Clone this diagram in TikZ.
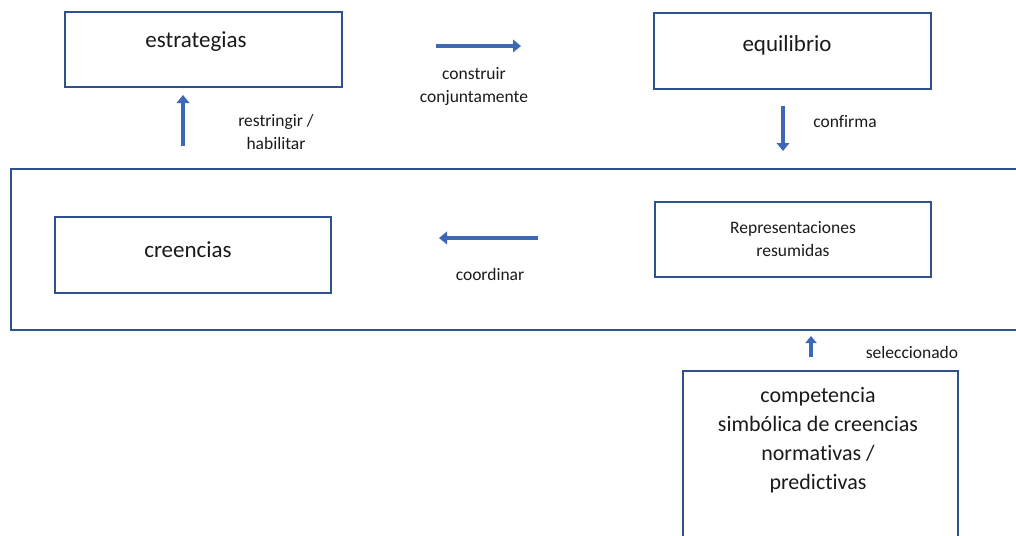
\documentclass[tikz,border=0pt]{standalone}
\usepackage{fontspec}
\setmainfont[Ligatures=NoCommon,RawFeature={-liga;-dlig;-clig}]{Carlito}
\usetikzlibrary{arrows.meta}
\definecolor{boxline}{HTML}{2F528F}
\definecolor{arrowfill}{HTML}{3D68B5}
\definecolor{txt}{HTML}{1A1A1A}
\tikzset{
  box/.style={draw=boxline, line width=2pt, rectangle, inner sep=0pt},
  bigtxt/.style={font=\fontsize{23}{29}\selectfont, text=txt, align=center, inner sep=0pt},
  smalltxt/.style={font=\fontsize{17.5}{23}\selectfont, text=txt, align=center, inner sep=0pt},
  blockarrow/.style={draw=arrowfill, line width=4.8pt, -{Triangle[length=8pt,width=12.5pt]}},
}
\begin{document}
\begin{tikzpicture}[x=1pt,y=1pt]
\useasboundingbox (0,0) rectangle (1016,-535);
\clip (0,0) rectangle (1016,-535);
% boxes
\node[box, minimum width=277pt, minimum height=75pt, anchor=north west] (estr) at (64,-11) {};
\node[box, minimum width=277pt, minimum height=76pt, anchor=north west] (equi) at (653,-12) {};
\node[box, minimum width=1040pt, minimum height=161pt, anchor=north west] (frame) at (10,-168) {};
\node[box, minimum width=276pt, minimum height=76pt, anchor=north west] (cree) at (54,-216) {};
\node[box, minimum width=276pt, minimum height=75pt, anchor=north west] (repr) at (654,-201) {};
\node[box, minimum width=275pt, minimum height=200pt, anchor=north west] (comp) at (682,-370) {};
% box texts
\node[bigtxt] (testr) at (196,-42) {estrategias};
\node[bigtxt] (tequi) at (787,-45) {equilibrio};
\node[bigtxt] (tcree) at (188,-250) {creencias};
\node[smalltxt] (trepr) at (793,-239.5) {Representaciones\\resumidas};
\node[bigtxt, font=\fontsize{22}{29}\selectfont] (tcomp) at (818,-440.5) {competencia\\simbólica de creencias\\normativas /\\predictivas};
% arrows
\coordinate (a1s) at (436,-46); \coordinate (a1e) at (521,-46);
\coordinate (a2s) at (183,-146); \coordinate (a2e) at (183,-95);
\coordinate (a3s) at (783,-106); \coordinate (a3e) at (783,-151);
\coordinate (a4s) at (538,-238); \coordinate (a4e) at (439,-238);
\coordinate (a5s) at (811,-357); \coordinate (a5e) at (811,-336);
\draw[blockarrow] (a1s) -- (a1e);
\draw[blockarrow] (a2s) -- (a2e);
\draw[blockarrow] (a3s) -- (a3e);
\draw[blockarrow] (a4s) -- (a4e);
\draw[draw=arrowfill, line width=4.8pt, -{Triangle[length=7pt,width=11pt]}] (a5s) -- (a5e);
% labels
\node[smalltxt] (lcons) at (474,-86.5) {construir\\conjuntamente};
\node[smalltxt] (lrest) at (276,-131.5) {restringir /\\habilitar};
\node[smalltxt] (lconf) at (845,-122) {confirma};
\node[smalltxt] (lcoor) at (490,-274) {coordinar};
\node[smalltxt] (lsel) at (912,-352) {seleccionado};
\end{tikzpicture}
\end{document}
